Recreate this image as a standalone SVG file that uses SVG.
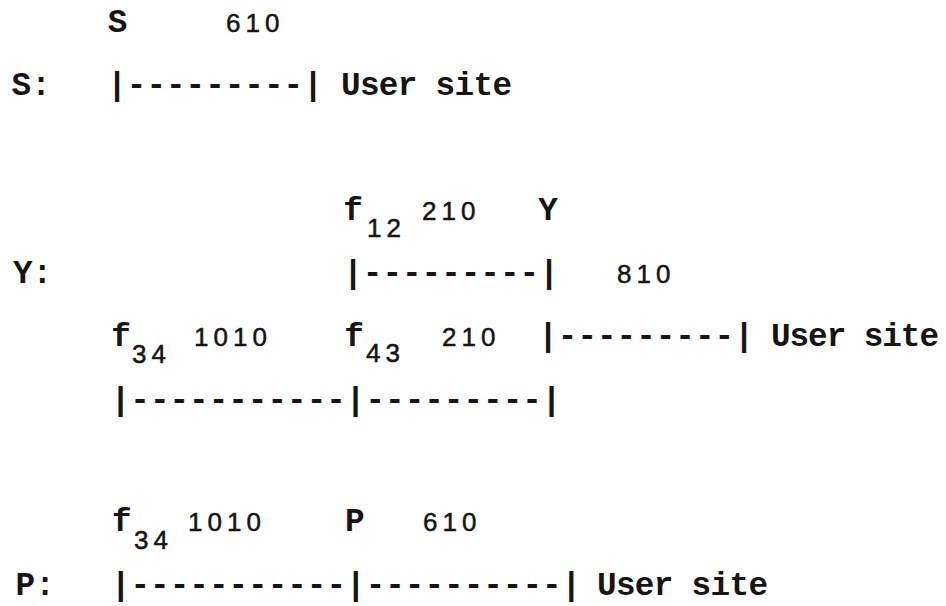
<svg xmlns="http://www.w3.org/2000/svg" width="946" height="606" viewBox="0 0 946 606">
  <style>
    .t { font-family: "Liberation Mono", "Courier New", monospace; font-size: 32.67px; font-weight: bold; fill: #151515; }
    .n { font-family: "Liberation Sans", Arial, sans-serif; font-size: 26px; letter-spacing: 5px; fill: #151515; stroke: #151515; stroke-width: 0.5px; }
  </style>
  <rect width="946" height="606" fill="#ffffff"/>

  <g id="row-S">
    <text class="t" x="107.7" y="32">S</text>
    <text class="n" x="226" y="32">610</text>
    <text class="t" x="11.6" y="95">S:</text>
    <text class="t" x="107.2" y="95">|---------|</text>
    <text class="t" x="341" y="95" textLength="171" lengthAdjust="spacing">User site</text>
  </g>

  <g id="row-Y">
    <text class="t" x="343.2" y="220">f</text>
    <text class="n" x="367" y="237">12</text>
    <text class="n" x="422" y="220">210</text>
    <text class="t" x="538.2" y="220">Y</text>
    <text class="t" x="13" y="283">Y:</text>
    <text class="t" x="343.2" y="283">|---------|</text>
    <text class="n" x="617" y="283">810</text>
    <text class="t" x="111.2" y="346">f</text>
    <text class="n" x="132" y="363">34</text>
    <text class="n" x="194" y="346">1010</text>
    <text class="t" x="344.2" y="346">f</text>
    <text class="n" x="366" y="362">43</text>
    <text class="n" x="442" y="346">210</text>
    <text class="t" x="538.2" y="346">|---------|</text>
    <text class="t" x="771" y="346" textLength="168" lengthAdjust="spacing">User site</text>
    <text class="t" x="110.7" y="410">|-----------|---------|</text>
  </g>

  <g id="row-P">
    <text class="t" x="112" y="531">f</text>
    <text class="n" x="134" y="549">34</text>
    <text class="n" x="188" y="531">1010</text>
    <text class="t" x="345" y="531">P</text>
    <text class="n" x="423" y="531">610</text>
    <text class="t" x="15.6" y="595">P:</text>
    <text class="t" x="110.9" y="595">|-----------|----------|</text>
    <text class="t" x="597" y="595" textLength="171" lengthAdjust="spacing">User site</text>
  </g>
</svg>
